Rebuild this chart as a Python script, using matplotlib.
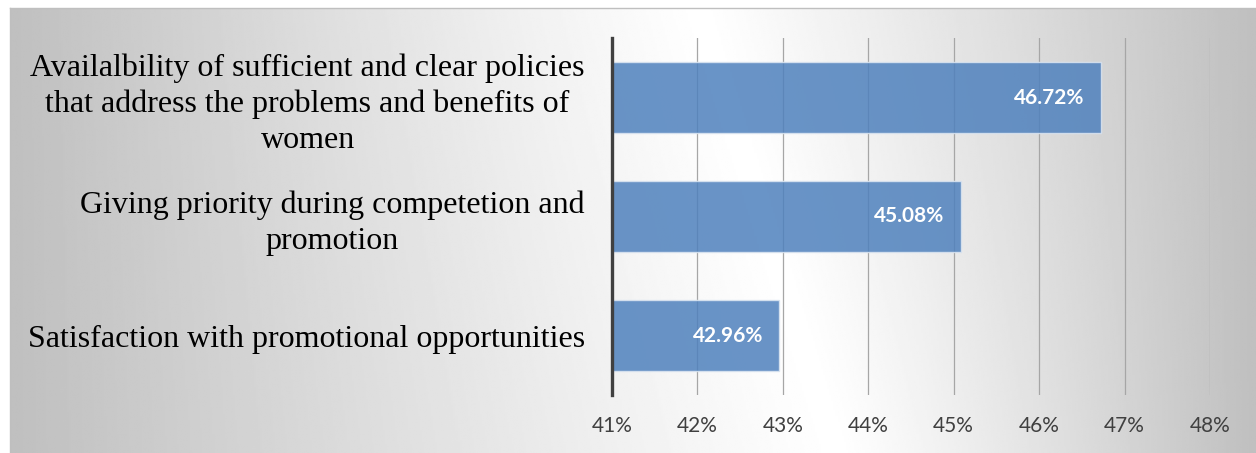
import numpy as np
import matplotlib
matplotlib.use("Agg")
import matplotlib.pyplot as plt

categories = [
    "Availalbility of sufficient and clear policies\nthat address the problems and benefits of\nwomen",
    "Giving priority during competetion and\npromotion",
    "Satisfaction with promotional opportunities",
]
values = [46.72, 45.08, 42.96]
tick_values = [41, 42, 43, 44, 45, 46, 47, 48]
tick_labels = [f"{t}%" for t in tick_values]

W, H = 1256, 453
fig = plt.figure(figsize=(W / 100, H / 100), dpi=100)
fig.patch.set_facecolor("white")

# Chart area background: soft gray-white-gray gradient
x0, y0 = 10, 8
bg = fig.add_axes([x0 / W, 0, 1 - x0 / W, (H - y0) / H], zorder=-2)
nx, ny = 600, 220
xs = np.linspace(x0, W, nx)
ys = np.linspace(y0, H, ny)
X, Y = np.meshgrid(xs, ys)
xc = 700 + 140 * (Y - y0) / (H - y0)
d = np.where(X < xc, (xc - X) / (xc - x0), (X - xc) / (W - xc))
shade = 1.0 - 0.25 * np.clip(d, 0, 1) ** 1.1
bg.imshow(shade, cmap="gray", vmin=0, vmax=1, aspect="auto",
          extent=[0, 1, 0, 1], interpolation="bilinear")
bg.set_xlim(0, 1)
bg.set_ylim(0, 1)
bg.axis("off")
# thin frame lines at top and left
fig.add_artist(plt.Line2D([x0 / W, 1], [1 - y0 / H, 1 - y0 / H], color="#bfbfbf", lw=1))
fig.add_artist(plt.Line2D([x0 / W, x0 / W], [0, 1 - y0 / H], color="#bfbfbf", lw=1))

left, right = 612 / W, 1210 / W
bottom, top = 1 - 395 / H, 1 - 38 / H
ax = fig.add_axes([left, bottom, right - left, top - bottom])
ax.set_facecolor("none")

pos = np.arange(len(categories))[::-1]
ax.barh(pos, [v - 41 for v in values], left=41, height=0.59,
        color="#4F81BD", alpha=0.85, edgecolor="#dbe5f1", linewidth=1, zorder=3)

for p, v in zip(pos, values):
    ax.text(v - 0.19, p, f"{v:.2f}%", ha="right", va="center",
            color="white", fontsize=15, fontweight="bold",
            family=["Lato", "DejaVu Sans"], zorder=4)

ax.set_xlim(41, 48)
ax.set_ylim(-0.5, 2.5)
ax.set_xticks(tick_values)
ax.set_xticklabels(tick_labels, fontsize=15, color="#404040",
                   family=["Lato", "DejaVu Sans"])
ax.set_yticks(pos)
ax.set_yticklabels(categories, fontsize=23, family="Liberation Serif",
                   color="black", ha="right", multialignment="center",
                   linespacing=1.3)
ax.tick_params(axis="y", length=0, pad=19.5)
ax.tick_params(axis="x", length=0, pad=15)

for t in tick_values[1:]:
    ax.axvline(t, color="#a6a6a6", lw=0.9, zorder=1)

for s in ["top", "right", "bottom"]:
    ax.spines[s].set_visible(False)
ax.spines["left"].set_color("#404040")
ax.spines["left"].set_linewidth(2.4)
ax.spines["left"].set_zorder(5)

fig.savefig("out.png", dpi=100)
